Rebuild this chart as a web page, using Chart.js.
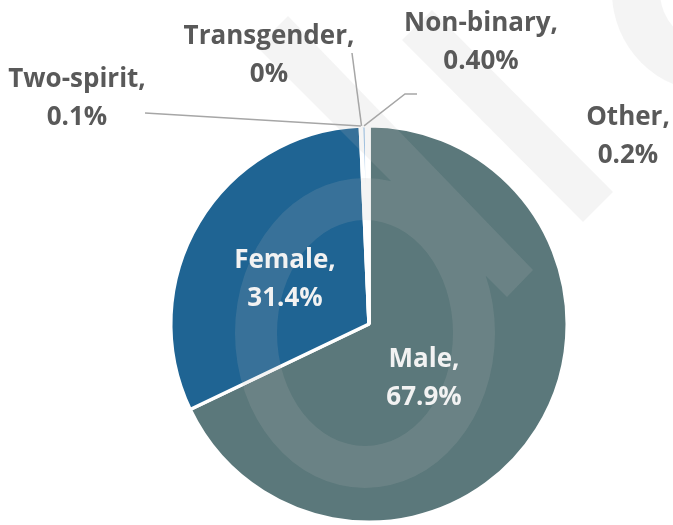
<!DOCTYPE html>
<html lang="en">
<head>
  <meta charset="UTF-8">
  <title>Gender distribution</title>
  <script src="https://cdn.jsdelivr.net/npm/chart.js@4.4.1/dist/chart.umd.min.js"></script>
  <style>
    html, body { margin: 0; padding: 0; background: #ffffff; }
    #wrap { width: 673px; height: 525px; }
  </style>
</head>
<body>
  <div id="wrap"><canvas id="genderPie" width="673" height="525"></canvas></div>

  <script>
    // data
    const categories = ['Male', 'Female', 'Two-spirit', 'Transgender', 'Non-binary', 'Other'];
    const shares = [67.9, 31.4, 0.1, 0, 0.4, 0.2];
    const shareLabels = ['67.9%', '31.4%', '0.1%', '0%', '0.40%', '0.2%'];

    const sliceColors = ['#5b787b', '#1f6493', '#2e75b6', '#7fa7c9', '#9dc3e6', '#c9d7e4'];

    // label centres, relative to the pie centre
    const labelOffsets = [[55, 55], [-84, -44], [-292, -225], [-100, -268], [112, -281], [259, -187]];
    // leader lines: points from the label side toward the slice (null = no line)
    const leaderPoints = [null, null, [[-224, -211]], [[-17, -271]], [[48, -230], [36, -230]], null];

    const FONT = 'bold 26px "Open Sans", Lato, sans-serif';
    const LINE_GAP = 38;

    // faint watermark, drawn over the slices and under the labels
    const watermark = {
      id: 'watermark',
      afterDatasetsDraw(chart) {
        const c = chart.ctx;
        c.save();
        c.fillStyle = 'rgba(184,184,184,0.16)';
        c.beginPath();
        // ring inside the pie
        c.ellipse(365, 333, 130, 155, 0, 0, Math.PI * 2, false);
        c.moveTo(365 + 88, 333);
        c.ellipse(365, 333, 88, 113, 0, 0, Math.PI * 2, true);
        // diagonal bands
        c.moveTo(257, 47); c.lineTo(288, 16); c.lineTo(533, 270); c.lineTo(507, 297); c.closePath();
        c.moveTo(402, 40); c.lineTo(432, 10); c.lineTo(613, 192); c.lineTo(583, 222); c.closePath();
        // ring in the corner
        c.moveTo(712 + 100, -8);
        c.arc(712, -8, 100, 0, Math.PI * 2, false);
        c.moveTo(712 + 52, -8);
        c.arc(712, -8, 52, 0, Math.PI * 2, true);
        c.fill('nonzero');
        c.restore();
      }
    };

    const sliceLabels = {
      id: 'sliceLabels',
      afterDraw(chart) {
        const c = chart.ctx;
        const arcs = chart.getDatasetMeta(0).data;
        c.save();
        c.font = FONT;
        c.textAlign = 'center';
        c.textBaseline = 'middle';
        arcs.forEach((arc, i) => {
          const p = arc.getProps(['x', 'y', 'startAngle', 'endAngle', 'outerRadius'], true);
          const cx = p.x, cy = p.y;
          // leader line
          if (leaderPoints[i]) {
            const mid = (p.startAngle + p.endAngle) / 2;
            const ax = cx + Math.cos(mid) * p.outerRadius;
            const ay = cy + Math.sin(mid) * p.outerRadius;
            c.strokeStyle = '#a6a6a6';
            c.lineWidth = 1.5;
            c.beginPath();
            leaderPoints[i].forEach((pt, k) => {
              if (k === 0) c.moveTo(cx + pt[0], cy + pt[1]);
              else c.lineTo(cx + pt[0], cy + pt[1]);
            });
            c.lineTo(ax, ay);
            c.stroke();
          }
          const inside = i < 2;
          c.fillStyle = inside ? '#f2f2f2' : '#595959';
          const lx = cx + labelOffsets[i][0];
          const ly = cy + labelOffsets[i][1];
          c.fillText(categories[i] + ',', lx, ly - LINE_GAP / 2);
          c.fillText(shareLabels[i], lx, ly + LINE_GAP / 2);
        });
        c.restore();
      }
    };

    new Chart(document.getElementById('genderPie'), {
      type: 'pie',
      data: {
        labels: categories,
        datasets: [{
          data: shares,
          backgroundColor: sliceColors,
          borderColor: '#ffffff',
          borderWidth: 3.5,
          hoverOffset: 0
        }]
      },
      options: {
        responsive: false,
        animation: false,
        events: [],
        layout: { padding: { left: 169, right: 104, top: 124, bottom: 1 } },
        plugins: {
          legend: { display: false },
          tooltip: { enabled: false }
        }
      },
      plugins: [watermark, sliceLabels]
    });
  </script>
</body>
</html>
